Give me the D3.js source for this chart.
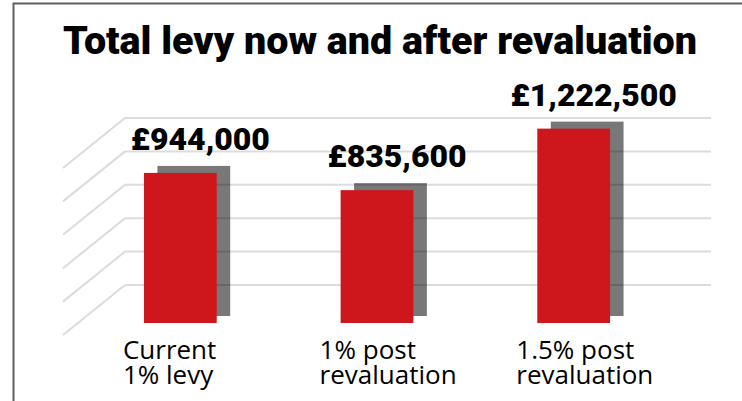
<!DOCTYPE html>
<html lang="en">
<head>
  <meta charset="UTF-8">
  <title>Total levy now and after revaluation</title>
  <script src="https://d3js.org/d3.v7.min.js"></script>
  <style>
    body { margin: 0; background: #fff; }
    .title { font-family: Roboto, Arial, sans-serif; font-weight: 900; font-size: 39px; fill: #000; }
    .value-label { font-family: Roboto, Arial, sans-serif; font-weight: 900; font-size: 32px; fill: #000; }
    .cat-label { font-family: "Open Sans", Arial, sans-serif; font-size: 26px; fill: #000; }
    .grid line { stroke: #dcdcdc; stroke-width: 2px; }
  </style>
</head>
<body>
  <svg id="chart" width="742" height="401"></svg>

  <script>
    // data
    const categories = ["Current|1% levy", "1% post|revaluation", "1.5% post|revaluation"];
    const levy = [944000, 835600, 1222500];
    const valueLabels = ["£944,000", "£835,600", "£1,222,500"];
    const gridTicks = [0, 250000, 500000, 750000, 1000000, 1250000];

    const data = categories.map((c, i) => ({ cat: c, value: levy[i], label: valueLabels[i] }));

    const svg = d3.select("#chart");

    // frame
    svg.append("path")
      .attr("d", "M13.5,401 L13.5,3.5 L742,3.5")
      .attr("fill", "none")
      .attr("stroke", "#5f5f5f")
      .attr("stroke-width", 2);

    // title
    svg.append("text")
      .attr("class", "title")
      .attr("x", 380)
      .attr("y", 54)
      .attr("text-anchor", "middle")
      .attr("textLength", 634)
      .attr("lengthAdjust", "spacingAndGlyphs")
      .text("Total levy now and after revaluation");

    // scales
    const xScale = d3.scaleBand()
      .domain(categories)
      .range([82, 672])
      .paddingInner(0.63)
      .paddingOuter(0.315);

    const yScale = d3.scaleLinear()
      .domain([0, 1400000])
      .range([323, 100.4]);

    // back wall gridlines (oblique 3D look)
    const wall = { left: 125, right: 711 };
    const depth = { dx: -62, dy: 50 };
    const gridScale = d3.scaleLinear()
      .domain([0, 1250000])
      .range([285, 118]);

    const grid = svg.append("g").attr("class", "grid");
    grid.selectAll(".h")
      .data(gridTicks)
      .enter()
      .append("line")
      .attr("x1", wall.left)
      .attr("x2", wall.right)
      .attr("y1", d => gridScale(d))
      .attr("y2", d => gridScale(d));
    grid.selectAll(".s")
      .data(gridTicks)
      .enter()
      .append("line")
      .attr("x1", wall.left + depth.dx)
      .attr("y1", d => gridScale(d) + depth.dy)
      .attr("x2", wall.left)
      .attr("y2", d => gridScale(d));

    // shadow (back face) of bars
    const shadow = { dx: 13.5, dy: -7 };
    svg.selectAll(".shadow")
      .data(data)
      .enter()
      .append("rect")
      .attr("class", "shadow")
      .attr("x", d => xScale(d.cat) + shadow.dx)
      .attr("y", d => yScale(d.value) + shadow.dy)
      .attr("width", xScale.bandwidth())
      .attr("height", d => yScale(0) - yScale(d.value))
      .attr("fill", "#000")
      .attr("fill-opacity", 0.53);

    // bars
    svg.selectAll(".bar")
      .data(data)
      .enter()
      .append("rect")
      .attr("class", "bar")
      .attr("x", d => xScale(d.cat))
      .attr("y", d => yScale(d.value))
      .attr("width", xScale.bandwidth())
      .attr("height", d => yScale(0) - yScale(d.value))
      .attr("fill", "#cd171c");

    // value labels
    svg.selectAll(".value-label")
      .data(data)
      .enter()
      .append("text")
      .attr("class", "value-label")
      .attr("x", d => xScale(d.cat) + xScale.bandwidth() / 2 + 20)
      .attr("y", d => yScale(d.value) - 23)
      .attr("text-anchor", "middle")
      .text(d => d.label);

    // category labels, one text per line
    const lines = data.flatMap(d => d.cat.split("|").map((t, i) => ({ t, i, x: xScale(d.cat) - 21 })));
    svg.selectAll(".cat-label")
      .data(lines)
      .enter()
      .append("text")
      .attr("class", "cat-label")
      .attr("x", d => d.x)
      .attr("y", d => 359 + d.i * 25)
      .text(d => d.t);
  </script>
</body>
</html>
